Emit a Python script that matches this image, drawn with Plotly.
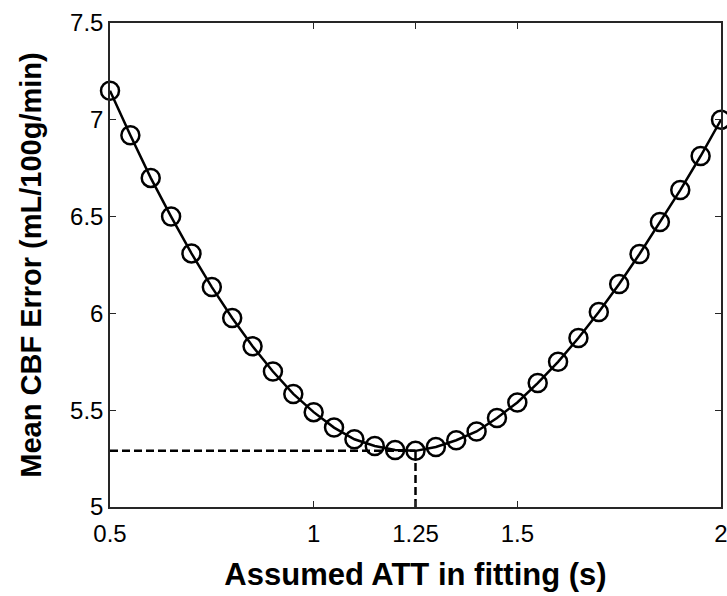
import plotly.graph_objects as go

att = [0.5, 0.55, 0.6, 0.65, 0.7, 0.75, 0.8, 0.85, 0.9, 0.95, 1.0, 1.05, 1.1, 1.15, 1.2,
       1.25, 1.3, 1.35, 1.4, 1.45, 1.5, 1.55, 1.6, 1.65, 1.7, 1.75, 1.8, 1.85, 1.9, 1.95, 2.0]
cbf_err = [7.15, 6.92, 6.70, 6.50, 6.31, 6.136, 5.976, 5.83, 5.70, 5.584, 5.49, 5.41, 5.35,
           5.315, 5.294, 5.29, 5.31, 5.345, 5.39, 5.46, 5.54, 5.64, 5.75, 5.873, 6.007,
           6.152, 6.307, 6.472, 6.637, 6.813, 7.0]
best_att = 1.25
best_err = 5.29
x_ticks = [0.5, 1, 1.25, 1.5, 2]
x_ticklabels = ["0.5", "1", "1.25", "1.5", "2"]
y_ticks = [5, 5.5, 6, 6.5, 7, 7.5]
y_ticklabels = ["5", "5.5", "6", "6.5", "7", "7.5"]

fig = go.Figure()
fig.add_trace(go.Scatter(x=[0.5, best_att], y=[best_err, best_err], mode="lines",
                         line=dict(color="black", width=2.5, dash="8px,4px"), hoverinfo="skip"))
fig.add_trace(go.Scatter(x=[best_att, best_att], y=[5, best_err], mode="lines",
                         line=dict(color="black", width=2.5, dash="8px,4px"), hoverinfo="skip"))
fig.add_trace(go.Scatter(x=att, y=cbf_err, mode="lines+markers",
                         line=dict(color="black", width=2.5),
                         marker=dict(symbol="circle-open", size=18, color="black",
                                     line=dict(width=2.5, color="black")),
                         cliponaxis=False))

font = "Liberation Sans, Arial, sans-serif"
fig.update_layout(
    width=727, height=596, showlegend=False,
    paper_bgcolor="white", plot_bgcolor="white",
    margin=dict(l=110, r=6, t=23, b=89),
    font=dict(family=font, size=24, color="black"),
    xaxis=dict(range=[0.5, 2], tickvals=x_ticks, ticktext=x_ticklabels,
               ticks="inside", ticklen=6, tickcolor="#262626", showgrid=False, zeroline=False,
               showline=True, linecolor="#262626", linewidth=1.5, mirror="allticks",
               automargin=False, ticklabeloverflow="allow", ticklabelstandoff=4,
               title=dict(text="<b>Assumed ATT in fitting (s)</b>", font=dict(size=31), standoff=18)),
    yaxis=dict(range=[5, 7.5], tickvals=y_ticks, ticktext=y_ticklabels,
               ticks="inside", ticklen=6, tickcolor="#262626", showgrid=False, zeroline=False,
               showline=True, linecolor="#262626", linewidth=1.5, mirror="allticks",
               automargin=False, ticklabeloverflow="allow",
               title=dict(text="<b>Mean CBF Error (mL/100g/min)</b>", font=dict(size=29), standoff=20)),
)
fig.write_html("out.html")
